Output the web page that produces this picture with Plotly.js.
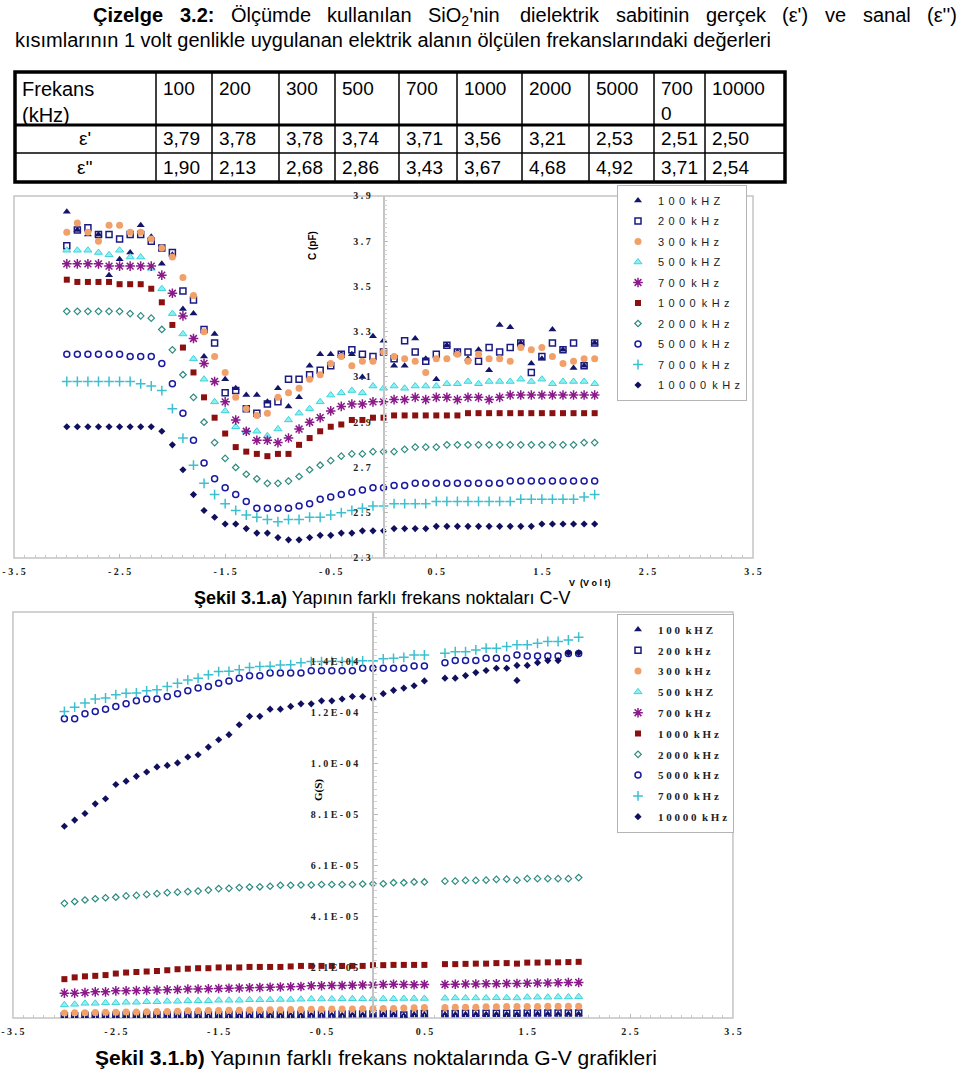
<!DOCTYPE html>
<html><head><meta charset="utf-8">
<script src="https://cdn.plot.ly/plotly-3.0.1.min.js"></script>
<style>html,body{margin:0;padding:0;background:#fff}#chart{width:960px;height:1072px}</style>
</head><body><div id="chart"></div>
<script>
// ---------- text data ----------
const titleLine1Words = ["Çizelge","3.2:","Ölçümde","kullanılan","SiO<sub>2</sub>'nin","dielektrik","sabitinin","gerçek","(ε')","ve","sanal","(ε'')"];
const titleLine1Bold = [true,true,false,false,false,false,false,false,false,false,false,false];
const titleLine2 = "kısımlarının 1 volt genlikle uygulanan elektrik alanın ölçülen frekanslarındaki değerleri";
const tableHeaderLabel = ["Frekans","(kHz)"];
const tableFreqs = ["100","200","300","500","700","1000","2000","5000","7000","10000"];
const epsRealLabel = "ε'";
const epsImagLabel = "ε''";
const epsReal = [3.79,3.78,3.78,3.74,3.71,3.56,3.21,2.53,2.51,2.50];
const epsImag = [1.90,2.13,2.68,2.86,3.43,3.67,4.68,4.92,3.71,2.54];
const captionA = "<b>Şekil 3.1.a)</b> Yapının farklı frekans noktaları C-V";
const captionB = "<b>Şekil 3.1.b)</b> Yapının farklı frekans noktalarında G-V grafikleri";
const seriesNames = ["100 kHZ","200 kHz","300 kHz","500 kHZ","700 kHz","1000 kHz","2000 kHz","5000 kHz","7000 kHz","10000 kHz"];

// ---------- axis ticks ----------
const xTickVals = [-3.5,-2.5,-1.5,-0.5,0.5,1.5,2.5,3.5];
const xTickText = ["- 3 . 5","- 2 . 5","- 1 . 5","- 0 . 5","0 . 5","1 . 5","2 . 5","3 . 5"];
const cvYTickVals = [2.3,2.5,2.7,2.9,3.1,3.3,3.5,3.7,3.9];
const cvYTickText = ["2 . 3","2 . 5","2 . 7","2 . 9","3 . 1","3 . 3","3 . 5","3 . 7","3 . 9"];
// G values are given in units of 1E-05 S
const gvYTickVals = [0.1,2.1,4.1,6.1,8.1,10.1,12.1,14.1];
const gvYTickText = ["1 . 0 E - 0 6","2 . 1 E - 0 5","4 . 1 E - 0 5","6 . 1 E - 0 5","8 . 1 E - 0 5","1 . 0 E - 0 4","1 . 2 E - 0 4","1 . 4 E - 0 4"];

// ---------- voltage ----------
const V = [-3.0,-2.9,-2.8,-2.7,-2.6,-2.5,-2.4,-2.3,-2.2,-2.1,-2.0,-1.9,-1.8,-1.7,-1.6,-1.5,-1.4,-1.3,-1.2,-1.1,-1.0,-0.9,-0.8,-0.7,-0.6,-0.5,-0.4,-0.3,-0.2,-0.1,0.0,0.1,0.2,0.3,0.4,0.5,0.6,0.7,0.8,0.9,1.0,1.1,1.2,1.3,1.4,1.5,1.6,1.7,1.8,1.9,2.0];

// ---------- C-V (pF) ----------
const c100 = [3.83,3.75,3.73,3.73,3.55,3.62,3.65,3.77,3.72,3.60,3.64,3.40,3.38,3.19,3.29,3.09,3.05,3.02,3.02,2.99,3.05,2.97,3.01,3.15,3.20,3.20,3.20,3.20,3.10,3.28,3.26,3.15,3.15,3.27,3.18,3.09,3.24,3.21,3.18,3.22,3.13,3.33,3.32,3.25,3.16,3.18,3.31,3.22,3.14,3.15,3.25];
const c200 = [3.68,3.75,3.76,3.73,3.73,3.71,3.73,3.73,3.70,3.67,3.65,3.48,3.44,3.31,3.25,3.03,3.04,2.96,2.94,2.98,2.99,3.09,3.09,3.11,3.13,3.15,3.20,3.22,3.20,3.19,3.21,3.18,3.26,3.21,3.17,3.20,3.24,3.21,3.21,3.17,3.23,3.21,3.23,3.25,3.12,3.19,3.25,3.22,3.25,3.15,3.25];
const c300 = [3.74,3.78,3.74,3.70,3.77,3.77,3.74,3.74,3.71,3.67,3.63,3.54,3.46,3.30,3.19,3.12,3.01,2.96,2.93,2.94,3.01,3.03,3.05,3.09,3.11,3.16,3.19,3.15,3.17,3.17,3.21,3.19,3.18,3.17,3.12,3.18,3.18,3.20,3.17,3.20,3.18,3.18,3.17,3.23,3.22,3.23,3.19,3.16,3.17,3.18,3.18];
const c500 = [3.66,3.66,3.66,3.65,3.64,3.66,3.63,3.63,3.58,3.49,3.38,3.29,3.18,3.09,2.99,2.95,2.88,2.86,2.86,2.84,2.87,2.91,2.94,2.96,2.99,3.02,3.03,3.04,3.03,3.06,3.05,3.06,3.05,3.06,3.06,3.06,3.07,3.07,3.08,3.07,3.08,3.08,3.08,3.09,3.08,3.09,3.07,3.08,3.08,3.08,3.07];
const c700 = [3.60,3.60,3.60,3.60,3.59,3.59,3.59,3.59,3.59,3.55,3.47,3.37,3.27,3.16,3.08,2.99,2.91,2.86,2.82,2.82,2.81,2.83,2.87,2.90,2.92,2.95,2.97,2.98,2.98,2.99,2.99,3.00,3.00,3.01,3.00,3.01,3.01,3.00,3.01,3.01,3.00,3.01,3.02,3.02,3.02,3.02,3.02,3.02,3.02,3.02,3.02];
const c1000 = [3.53,3.52,3.52,3.52,3.52,3.51,3.51,3.51,3.49,3.43,3.33,3.23,3.12,3.01,2.92,2.85,2.79,2.77,2.76,2.75,2.76,2.76,2.80,2.83,2.86,2.88,2.89,2.91,2.91,2.92,2.92,2.93,2.93,2.93,2.93,2.93,2.93,2.93,2.94,2.94,2.94,2.94,2.94,2.94,2.94,2.94,2.94,2.94,2.94,2.94,2.94];
const c2000 = [3.39,3.39,3.39,3.39,3.39,3.39,3.38,3.37,3.36,3.31,3.22,3.11,3.01,2.90,2.81,2.74,2.70,2.67,2.65,2.63,2.63,2.64,2.66,2.69,2.71,2.73,2.75,2.76,2.76,2.77,2.77,2.77,2.78,2.79,2.79,2.79,2.80,2.80,2.80,2.80,2.80,2.80,2.80,2.80,2.80,2.80,2.80,2.80,2.80,2.81,2.81];
const c5000 = [3.20,3.20,3.20,3.20,3.20,3.20,3.19,3.19,3.19,3.16,3.07,2.94,2.82,2.72,2.65,2.61,2.58,2.55,2.52,2.52,2.52,2.52,2.53,2.54,2.56,2.57,2.58,2.59,2.60,2.61,2.61,2.62,2.62,2.63,2.63,2.63,2.63,2.63,2.63,2.63,2.63,2.63,2.64,2.64,2.64,2.64,2.64,2.64,2.64,2.64,2.64];
const c7000 = [3.08,3.08,3.08,3.08,3.08,3.08,3.08,3.07,3.06,3.04,2.96,2.83,2.71,2.63,2.58,2.54,2.51,2.49,2.48,2.47,2.46,2.47,2.47,2.48,2.48,2.49,2.50,2.51,2.52,2.53,2.53,2.54,2.54,2.54,2.54,2.55,2.55,2.55,2.55,2.55,2.55,2.55,2.55,2.56,2.56,2.56,2.56,2.56,2.56,2.57,2.58];
const c10000 = [2.88,2.88,2.88,2.88,2.88,2.88,2.88,2.88,2.88,2.86,2.80,2.69,2.58,2.51,2.48,2.45,2.45,2.43,2.41,2.41,2.39,2.38,2.38,2.39,2.40,2.40,2.41,2.41,2.42,2.42,2.42,2.43,2.43,2.43,2.43,2.44,2.44,2.44,2.44,2.44,2.44,2.44,2.44,2.44,2.44,2.45,2.45,2.45,2.45,2.45,2.45];

// ---------- G-V (1E-05 S) ----------
const g100 = [0.15,0.15,0.16,0.16,0.16,0.17,0.17,0.17,0.18,0.18,0.18,0.18,0.19,0.19,0.19,0.19,0.20,0.20,0.20,0.20,0.21,0.21,0.21,0.21,0.22,0.22,0.22,0.22,0.23,0.23,0.23,0.24,0.24,0.20,0.24,0.24,null,0.24,0.24,0.25,0.25,0.25,0.25,0.25,0.25,0.26,0.26,0.26,0.26,0.26,0.26];
const g200 = [0.19,0.19,0.20,0.20,0.20,0.21,0.21,0.21,0.22,0.22,0.22,0.22,0.23,0.23,0.23,0.23,0.24,0.24,0.24,0.24,0.25,0.25,0.25,0.25,0.26,0.26,0.26,0.26,0.27,0.27,0.27,0.28,0.28,0.22,0.28,0.28,null,0.28,0.28,0.29,0.29,0.29,0.29,0.29,0.29,0.30,0.30,0.30,0.30,0.30,0.30];
const g300 = [0.30,0.31,0.31,0.32,0.33,0.33,0.34,0.34,0.35,0.36,0.36,0.37,0.39,0.39,0.40,0.40,0.41,0.41,0.42,0.42,0.43,0.43,0.44,0.44,0.45,0.45,0.46,0.46,0.46,0.47,0.47,0.48,0.48,0.50,0.51,0.52,null,0.52,0.53,0.53,0.53,0.54,0.54,0.55,0.55,0.55,0.55,0.56,0.56,0.56,0.56];
const g500 = [0.62,0.64,0.68,0.68,0.70,0.70,0.72,0.72,0.74,0.74,0.76,0.76,0.78,0.78,0.78,0.80,0.80,0.80,0.82,0.82,0.82,0.83,0.83,0.84,0.85,0.85,0.85,0.86,0.86,0.86,0.86,0.86,0.86,0.87,0.87,0.87,null,0.88,0.89,0.89,0.89,0.89,0.90,0.90,0.89,0.92,0.92,0.92,0.93,0.93,0.94];
const g700 = [1.08,1.08,1.10,1.13,1.13,1.17,1.17,1.18,1.19,1.20,1.21,1.22,1.24,1.24,1.25,1.26,1.27,1.28,1.29,1.30,1.31,1.32,1.33,1.34,1.37,1.37,1.38,1.38,1.39,1.40,1.40,1.42,1.43,1.42,1.41,1.42,null,1.42,1.43,1.44,1.44,1.45,1.45,1.46,1.46,1.47,1.48,1.48,1.49,1.50,1.50];
const g1000 = [1.63,1.70,1.74,1.76,1.79,1.85,1.89,1.91,1.93,1.95,1.98,2.02,2.04,2.06,2.06,2.09,2.09,2.09,2.11,2.11,2.11,2.11,2.13,2.15,2.15,2.15,2.15,2.15,2.15,2.15,2.18,2.18,2.19,2.19,2.19,2.19,null,2.22,2.22,2.23,2.24,2.24,2.26,2.26,2.24,2.28,2.28,2.29,2.29,2.30,2.31];
const g2000 = [4.61,4.68,4.74,4.79,4.83,4.85,4.90,4.92,4.96,4.99,5.03,5.05,5.07,5.09,5.13,5.19,5.20,5.23,5.25,5.26,5.28,5.32,5.32,5.33,5.33,5.35,5.35,5.35,5.35,5.37,5.38,5.38,5.42,5.42,5.45,5.45,null,5.48,5.48,5.51,5.51,5.52,5.55,5.56,5.52,5.58,5.58,5.58,5.58,5.58,5.62];
const g5000 = [11.86,11.86,12.06,12.15,12.24,12.35,12.45,12.57,12.64,12.64,12.74,12.85,12.96,13.07,13.13,13.26,13.35,13.46,13.55,13.55,13.66,13.66,13.66,13.66,13.75,13.75,13.75,13.75,13.75,13.85,13.85,13.85,13.85,13.85,13.94,13.94,null,14.07,14.15,14.15,14.15,14.24,14.24,14.24,14.37,14.33,14.33,14.33,14.33,14.43,14.43];
const g7000 = [12.15,12.32,12.48,12.64,12.68,12.81,12.87,12.88,12.96,13.00,13.13,13.26,13.39,13.46,13.59,13.72,13.73,13.79,13.88,13.92,13.93,13.98,13.99,14.07,14.11,14.11,14.12,14.11,14.12,14.14,14.14,14.22,14.24,14.28,14.37,14.37,null,14.44,14.50,14.50,14.57,14.64,14.64,14.70,14.77,14.77,14.83,14.90,14.90,14.96,15.07];
const g10000 = [7.64,7.88,8.14,8.52,8.72,9.28,9.41,9.60,9.77,9.97,10.03,10.13,10.36,10.45,10.75,11.04,11.24,11.63,11.96,11.96,12.24,12.24,12.35,12.45,12.45,12.57,12.57,12.64,12.74,12.74,12.64,12.85,12.98,13.07,13.16,13.35,null,13.46,13.46,13.56,13.68,13.76,13.85,13.85,13.96,13.96,14.07,14.15,14.15,14.46,14.46];
const g10000ExtraV = [1.4];
const g10000ExtraG = [13.37];

const cSeries = [c100,c200,c300,c500,c700,c1000,c2000,c5000,c7000,c10000];
const gSeries = [g100,g200,g300,g500,g700,g1000,g2000,g5000,g7000,g10000];

// ---------- styles ----------
const markerStyles = [
  {symbol:'triangle-up', size:7, color:'#14146b', line:{width:0}},
  {symbol:'square-open', size:6, color:'#1a1a80', line:{width:1.5}},
  {symbol:'circle', size:7, color:'#f0a068', line:{width:0}},
  {symbol:'triangle-up', size:7, color:'#8ff0f2', line:{width:1, color:'#3fd3dc'}},
  {symbol:'asterisk-open', size:8, color:'#8a1a8a', line:{width:1.5, color:'#8a1a8a'}},
  {symbol:'square', size:6, color:'#8b1010', line:{width:0}},
  {symbol:'diamond-open', size:5, color:'#2e8b80', line:{width:1.2}},
  {symbol:'circle-open', size:6, color:'#1a1aa0', line:{width:1.5}},
  {symbol:'cross-thin-open', size:7, color:'#3cc0d0', line:{width:1.5, color:'#3cc0d0'}},
  {symbol:'diamond', size:5.5, color:'#10105e', line:{width:0}}
];

const W = 960, H = 1072;
const PX = p => p / W;
const PY = p => 1 - p / H;
const NB = '\u00a0';
const spacedSans = s => s.split(' ').map(w => w.split('').join('\u2009\u2009')).join(NB + NB);
const spacedSerif = s => s.split(' ').map(w => w.split('').join(NB)).join(NB + NB);
const nbsp = arr => arr.map(t => t.replace(/ /g, NB));

const traces = [];
cSeries.forEach((ys, k) => {
  traces.push({type:'scatter', mode:'markers', x:V, y:ys, name:spacedSans(seriesNames[k]),
    xaxis:'x', yaxis:'y', legend:'legend', legendgroup:'c'+k, marker:markerStyles[k], hoverinfo:'x+y'});
});
gSeries.forEach((ys, k) => {
  let xs = V, yv = ys;
  if (k === 9) { xs = V.concat(g10000ExtraV); yv = ys.concat(g10000ExtraG); }
  traces.push({type:'scatter', mode:'markers', x:xs, y:yv, name:spacedSerif(seriesNames[k]),
    xaxis:'x2', yaxis:'y2', legend:'legend2', legendgroup:'g'+k, marker:markerStyles[k], hoverinfo:'x+y'});
});

// ---------- annotations ----------
const ann = [];
const SANS = 'Liberation Sans, Arial, sans-serif';
const SERIF = 'Liberation Serif, Times New Roman, serif';

// title line 1 justified
const ctx = document.createElement('canvas').getContext('2d');
function tw(t, bold, size){ ctx.font = (bold?'bold ':'') + size + 'px "Liberation Sans"'; return ctx.measureText(t.replace(/<\/?sub>/g,'')).width; }
const tSize = 20;
const widths = titleLine1Words.map((w,i) => tw(w, titleLine1Bold[i], tSize));
const sumW = widths.reduce((a,b)=>a+b,0);
const lineL = 93, lineR = 957;
const gap = (lineR - lineL - sumW) / (titleLine1Words.length - 1);
let cx = lineL;
titleLine1Words.forEach((w,i) => {
  ann.push({xref:'paper', yref:'paper', x:PX(cx-2), y:PY(2), xanchor:'left', yanchor:'top', showarrow:false,
    text: titleLine1Bold[i] ? '<b>'+w+'</b>' : w, font:{family:SANS, size:tSize, color:'#000'}});
  cx += widths[i] + gap;
});
ann.push({xref:'paper', yref:'paper', x:PX(13), y:PY(40), xanchor:'left', yanchor:'middle', showarrow:false,
  text:titleLine2, font:{family:SANS, size:tSize, color:'#000'}});

// table
const colB = [15,156,212,279,335,399,457,522,589,654,705,785];
const tTop = 72, tHead = 125, tRow = 153, tBot = 182;
const tFont = {family:SANS, size:19, color:'#000'};
ann.push({xref:'paper', yref:'paper', x:PX(colB[0]+5), y:PY(76), xanchor:'left', yanchor:'top', showarrow:false,
  text:tableHeaderLabel.join('<br>'), font:{family:SANS, size:20, color:'#000'}, align:'left'});
tableFreqs.forEach((f,i) => {
  const cw = colB[i+2]-colB[i+1];
  let txt = f;
  if (tw(f,false,19) + 12 > cw) txt = f.slice(0,-1) + '<br>' + f.slice(-1);
  ann.push({xref:'paper', yref:'paper', x:PX(colB[i+1]+5), y:PY(76), xanchor:'left', yanchor:'top', showarrow:false,
    text:txt, font:tFont, align:'left'});
  ann.push({xref:'paper', yref:'paper', x:PX(colB[i+1]+5), y:PY(139), xanchor:'left', yanchor:'middle', showarrow:false,
    text:epsReal[i].toFixed(2).replace('.',','), font:tFont});
  ann.push({xref:'paper', yref:'paper', x:PX(colB[i+1]+5), y:PY(167), xanchor:'left', yanchor:'middle', showarrow:false,
    text:epsImag[i].toFixed(2).replace('.',','), font:tFont});
});
ann.push({xref:'paper', yref:'paper', x:PX(85), y:PY(139), xanchor:'center', yanchor:'middle', showarrow:false, text:epsRealLabel, font:tFont});
ann.push({xref:'paper', yref:'paper', x:PX(85), y:PY(167), xanchor:'center', yanchor:'middle', showarrow:false, text:epsImagLabel, font:tFont});

// axis titles & captions
ann.push({xref:'paper', yref:'paper', x:PX(313), y:PY(246), xanchor:'center', yanchor:'middle', showarrow:false, textangle:-90,
  text:'<b>C (pF)</b>', font:{family:SANS, size:10, color:'#000'}});
ann.push({xref:'paper', yref:'paper', x:PX(590), y:PY(583), xanchor:'center', yanchor:'middle', showarrow:false,
  text:'<b>V' + NB + NB + '(V' + NB + 'o' + NB + 'l' + NB + 't)</b>', font:{family:SANS, size:9, color:'#000'}});
ann.push({xref:'paper', yref:'paper', x:PX(382), y:PY(598), xanchor:'center', yanchor:'middle', showarrow:false,
  text:captionA, font:{family:SANS, size:18, color:'#000'}});
ann.push({xref:'paper', yref:'paper', x:PX(318), y:PY(790), xanchor:'center', yanchor:'middle', showarrow:false, textangle:-90,
  text:'<b>G(S)</b>', font:{family:SERIF, size:11, color:'#000'}});
ann.push({xref:'paper', yref:'paper', x:PX(376), y:PY(1057), xanchor:'center', yanchor:'middle', showarrow:false,
  text:captionB, font:{family:SANS, size:21, color:'#000'}});

// ---------- shapes ----------
const shapes = [];
const L = (x0,y0,x1,y1,w) => shapes.push({type:'line', xref:'paper', yref:'paper', x0:PX(x0), y0:PY(y0), x1:PX(x1), y1:PY(y1), line:{color:'#000', width:w}});
shapes.push({type:'rect', xref:'paper', yref:'paper', x0:PX(colB[0]), x1:PX(colB[11]), y0:PY(tBot), y1:PY(tTop), line:{color:'#000', width:3.5}});
L(colB[0], tHead, colB[11], tHead, 3);
L(colB[0], tRow, colB[11], tRow, 1.5);
for (let i=1;i<colB.length-1;i++) L(colB[i], tTop, colB[i], tBot, 1.5);
shapes.push({type:'rect', xref:'x domain', yref:'y domain', x0:0, x1:1, y0:0, y1:1, line:{color:'#c4c4c4', width:1.5}, layer:'below'});
shapes.push({type:'rect', xref:'x2 domain', yref:'y2 domain', x0:0, x1:1, y0:0, y1:1, line:{color:'#c4c4c4', width:1.5}, layer:'below'});

const tickFont = {family:SERIF, size:10, weight:'bold', color:'#222'};
const xCommon = {range:[-3.5,3.5], showgrid:false, zeroline:false, showline:false, tickmode:'array', tickvals:xTickVals, ticktext:nbsp(xTickText),
  ticks:'inside', ticklen:4, tickcolor:'#b8b8b8', tickfont:tickFont, ticklabelstandoff:6,
  minor:{ticks:'inside', ticklen:3, tickmode:'linear', tick0:-3.5, dtick:0.1, tickcolor:'#c8c8c8', showgrid:false}, fixedrange:true};

const layout = {
  width:W, height:H, margin:{l:0,r:0,t:0,b:0}, paper_bgcolor:'#fff', plot_bgcolor:'rgba(0,0,0,0)',
  font:{family:SANS, color:'#000'}, showlegend:true, hovermode:'closest',
  xaxis:Object.assign({}, xCommon, {domain:[0.0146,0.7844], anchor:'y'}),
  yaxis:{domain:[0.4795,0.8172], range:[2.3,3.9], anchor:'free', position:0.3995, showgrid:false, zeroline:false,
    showline:true, linecolor:'#c4c4c4', linewidth:1.5, tickmode:'array', tickvals:cvYTickVals, ticktext:nbsp(cvYTickText),
    ticks:'inside', ticklen:4, tickcolor:'#b8b8b8', tickfont:tickFont, ticklabelstandoff:10,
    minor:{ticks:'inside', ticklen:3, tickmode:'linear', tick0:2.3, dtick:0.02, tickcolor:'#d0d0d0', showgrid:false}, fixedrange:true},
  xaxis2:Object.assign({}, xCommon, {domain:[0.0135,0.7635], anchor:'y2'}),
  yaxis2:{domain:[0.0504,0.4291], range:[0.104,16.06], anchor:'free', position:0.3885, showgrid:false, zeroline:false,
    showline:true, linecolor:'#c4c4c4', linewidth:1.5, tickmode:'array', tickvals:gvYTickVals, ticktext:nbsp(gvYTickText),
    ticks:'inside', ticklen:4, tickcolor:'#b8b8b8', tickfont:tickFont, ticklabelstandoff:12,
    minor:{ticks:'inside', ticklen:3, tickmode:'linear', tick0:0.1, dtick:0.25, tickcolor:'#d0d0d0', showgrid:false}, fixedrange:true},
  legend:{x:PX(617), y:PY(185), xanchor:'left', yanchor:'top', bgcolor:'#fff', bordercolor:'#b4b4b4', borderwidth:1,
    font:{family:SANS, size:11, color:'#222'}, tracegroupgap:1.5, itemclick:false, itemdoubleclick:false},
  legend2:{x:PX(617), y:PY(614), xanchor:'left', yanchor:'top', bgcolor:'#fff', bordercolor:'#b4b4b4', borderwidth:1,
    font:{family:SERIF, size:11, weight:'bold', color:'#222'}, tracegroupgap:1.8, itemclick:false, itemdoubleclick:false},
  annotations:ann, shapes:shapes
};

Plotly.newPlot('chart', traces, layout, {displayModeBar:false});
</script>
</body></html>
